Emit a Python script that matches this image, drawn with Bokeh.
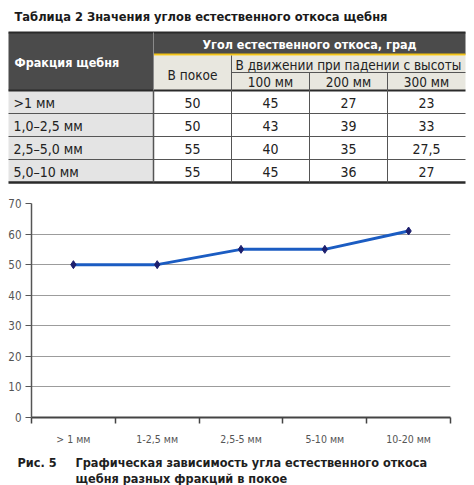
from bokeh.plotting import figure
from bokeh.layouts import column
from bokeh.models import Range1d, FixedTicker
from bokeh.core.properties import value
from bokeh.embed import file_html
from bokeh.resources import INLINE

# ---------------- data ----------------
table_title = "Таблица 2  Значения углов естественного откоса щебня"
fractions = [">1 мм", "1,0–2,5 мм", "2,5–5,0 мм", "5,0–10 мм"]
rest = [50, 50, 55, 55]
fall_100 = [45, 43, 40, 45]
fall_200 = [27, 39, 35, 36]
fall_300 = [23, 33, 27.5, 27]
heights = ["100 мм", "200 мм", "300 мм"]

chart_categories = ["> 1 мм", "1-2,5 мм", "2,5-5 мм", "5-10 мм", "10-20 мм"]
chart_values = [50, 50, 55, 55, 61]
y_ticks = [0, 10, 20, 30, 40, 50, 60, 70]

caption_label = "Рис. 5"
caption_lines = ["Графическая зависимость угла естественного откоса",
                 "щебня разных фракций в покое"]

FONT_NAME = "DejaVu Sans Condensed"
FONT = value(FONT_NAME)
W = 466
TXT = "#222222"

def fmt(v):
    return ("%g" % v).replace(".", ",")

def blank(h):
    f = figure(width=W, height=h, output_backend="svg", toolbar_location=None, title=None,
               x_range=Range1d(0, W), y_range=Range1d(h, 0),
               x_axis_type=None, y_axis_type=None, frame_align=False,
               min_border=0, outline_line_color=None)
    f.grid.visible = False
    return f

# ---------------- table ----------------
TH = 190
t = blank(TH)
col_x = [8, 153, 231, 309, 387, 465]
top, h1, sub1, sub2 = 32, 53, 55, 72
hdr_bot = 90
row_h = 23
rows_y = [hdr_bot + i * row_h for i in range(len(fractions) + 1)]

t.text(x=[14], y=[16], text=[table_title], text_font=FONT, text_font_style="bold",
       text_font_size="12.8px", text_baseline="middle", text_color="#1a1a1a")

dark = "#4b4b4b"
t.quad(left=[col_x[0]], right=[col_x[1]], top=[top], bottom=[hdr_bot], fill_color=dark, line_color=None)
t.quad(left=[col_x[1]], right=[col_x[-1]], top=[top], bottom=[h1 + 1], fill_color=dark, line_color=None)
t.quad(left=[col_x[1]], right=[col_x[-1]], top=[sub1], bottom=[hdr_bot], fill_color="#e8e7df", line_color=None)
t.quad(left=[col_x[0]] * len(fractions), right=[col_x[1]] * len(fractions),
       top=rows_y[:-1], bottom=rows_y[1:], fill_color="#e4e4e4", line_color=None)
# lines
t.segment(x0=[col_x[1]], y0=[h1 + 1], x1=[col_x[-1]], y1=[h1 + 1], line_color="#f2c318", line_width=2)
t.segment(x0=[col_x[0]], y0=[top], x1=[col_x[-1]], y1=[top], line_color="#2a2a2a", line_width=2)
t.segment(x0=[col_x[0]], y0=[hdr_bot], x1=[col_x[-1]], y1=[hdr_bot], line_color="#2a2a2a", line_width=2)
t.segment(x0=[col_x[0]] * 3, y0=rows_y[1:-1], x1=[col_x[-1]] * 3, y1=rows_y[1:-1], line_color="#555555", line_width=1)
t.segment(x0=[col_x[0]], y0=[rows_y[-1]], x1=[col_x[-1]], y1=[rows_y[-1]], line_color="#2a2a2a", line_width=2.5)
t.segment(x0=[col_x[1]], y0=[top], x1=[col_x[1]], y1=[hdr_bot], line_color="#8a8a8a", line_width=1)
t.segment(x0=[col_x[1]], y0=[hdr_bot], x1=[col_x[1]], y1=[rows_y[-1]], line_color="#555555", line_width=1.5)
t.segment(x0=[col_x[2]], y0=[sub1], x1=[col_x[2]], y1=[rows_y[-1]], line_color="#555555", line_width=1)
t.segment(x0=col_x[3:5], y0=[sub2] * 2, x1=col_x[3:5], y1=[rows_y[-1]] * 2, line_color="#555555", line_width=1)
t.segment(x0=[col_x[2]], y0=[sub2], x1=[col_x[-1]], y1=[sub2], line_color="#555555", line_width=1)

# header texts
t.text(x=[14], y=[62], text=["Фракция щебня"], text_font=FONT, text_font_style="bold",
       text_font_size="12.5px", text_baseline="middle", text_color="white")
t.text(x=[(col_x[1] + col_x[-1]) / 2], y=[43.5], text=["Угол естественного откоса, град"],
       text_font=FONT, text_font_style="bold", text_font_size="12.5px",
       text_baseline="middle", text_align="center", text_color="white")
t.text(x=[(col_x[1] + col_x[2]) / 2], y=[74], text=["В покое"], text_font=FONT,
       text_font_size="13.5px", text_baseline="middle", text_align="center", text_color=TXT)
t.text(x=[(col_x[2] + col_x[-1]) / 2], y=[64], text=["В движении при падении с высоты"], text_font=FONT,
       text_font_size="13.5px", text_baseline="middle", text_align="center", text_color=TXT)
t.text(x=[(col_x[i] + col_x[i + 1]) / 2 for i in range(2, 5)], y=[81.5] * 3, text=heights, text_font=FONT,
       text_font_size="13.5px", text_baseline="middle", text_align="center", text_color=TXT)

# body texts
row_c = [(rows_y[i] + rows_y[i + 1]) / 2 + 0.5 for i in range(len(fractions))]
t.text(x=[13] * len(fractions), y=row_c, text=fractions, text_font=FONT, text_font_size="14px",
       text_baseline="middle", text_color=TXT)
for ci, series in enumerate([rest, fall_100, fall_200, fall_300]):
    cx = (col_x[ci + 1] + col_x[ci + 2]) / 2
    t.text(x=[cx] * len(series), y=row_c, text=[fmt(v) for v in series], text_font=FONT,
           text_font_size="14px", text_baseline="middle", text_align="center", text_color=TXT)

# ---------------- chart ----------------
p = figure(width=W, height=257, output_backend="svg", toolbar_location=None, title=None,
           x_range=Range1d(0, len(chart_categories)), y_range=Range1d(0, 70), frame_align=False,
           min_border_left=31, min_border_right=16, min_border_top=13, min_border_bottom=20,
           outline_line_color=None)
xs = [i + 0.5 for i in range(len(chart_categories))]
p.line(xs, chart_values, line_color="#1b5cc2", line_width=3)
p.scatter(xs, chart_values, marker="diamond", size=8, fill_color="#1c1f6e", line_color="#1c1f6e")

p.xgrid.visible = False
p.ygrid.ticker = FixedTicker(ticks=y_ticks)
p.ygrid.grid_line_color = "#9c9c9c"
p.ygrid.grid_line_width = 1

ya = p.yaxis[0]
ya.ticker = FixedTicker(ticks=y_ticks)
ya.axis_line_color = "#555555"
ya.axis_line_width = 1.5
ya.major_tick_out = 6
ya.major_tick_in = 0
ya.major_tick_line_color = "#555555"
ya.minor_tick_line_color = None
ya.major_label_text_font = FONT_NAME
ya.major_label_text_font_size = "11.5px"
ya.major_label_text_color = "#555555"
ya.major_label_standoff = 4

xa = p.xaxis[0]
xa.ticker = FixedTicker(ticks=xs, minor_ticks=list(range(len(chart_categories) + 1)))
xa.major_label_overrides = {x: c for x, c in zip(xs, chart_categories)}
xa.axis_line_color = "#444444"
xa.axis_line_width = 2
xa.major_tick_line_color = None
xa.major_tick_out = 0
xa.major_tick_in = 0
xa.minor_tick_line_color = "#444444"
xa.minor_tick_line_width = 1.5
xa.minor_tick_out = 6
xa.minor_tick_in = 0
xa.major_label_text_font = FONT_NAME
xa.major_label_text_font_size = "10.5px"
xa.major_label_text_color = "#555555"
xa.major_label_standoff = 9

# ---------------- caption ----------------
c = blank(38)
c.text(x=[17], y=[15], text=[caption_label], text_font=FONT, text_font_style="bold",
       text_font_size="12.6px", text_baseline="middle", text_color="#1e1e1e")
c.text(x=[75, 75], y=[15, 31], text=caption_lines, text_font=FONT, text_font_style="bold",
       text_font_size="12.6px", text_baseline="middle", text_color="#1e1e1e")

layout = column(t, p, c, spacing=0)
open("out.html", "w").write(file_html(layout, INLINE))
